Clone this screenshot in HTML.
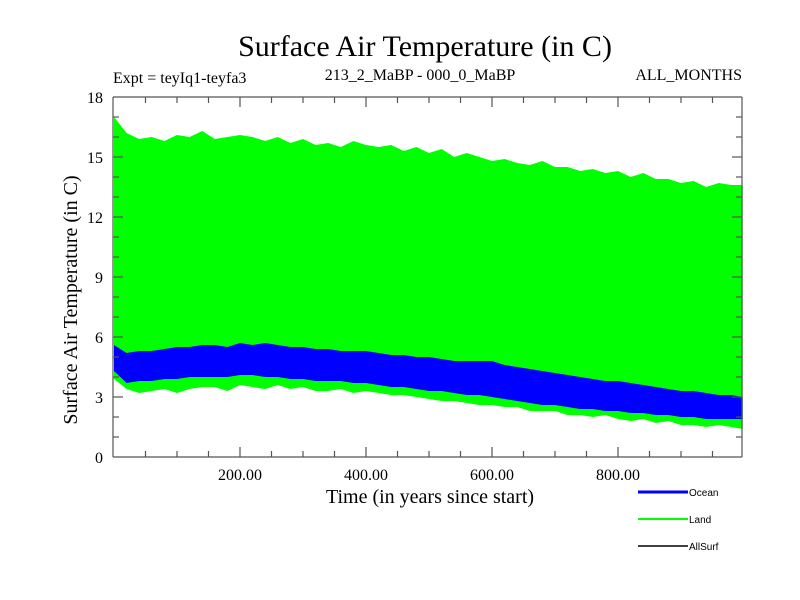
<!DOCTYPE html>
<html><head><meta charset="utf-8"><style>
body{margin:0;background:#fff}
svg{display:block;font-family:"Liberation Serif",serif}
</style></head><body>
<svg id="c" width="800" height="600" viewBox="0 0 800 600">
<text x="425" y="56" font-size="30" text-anchor="middle">Surface Air Temperature (in C)</text>
<text x="113" y="83" font-size="16">Expt = teyIq1-teyfa3</text>
<text x="420" y="80" font-size="16" text-anchor="middle">213_2_MaBP - 000_0_MaBP</text>
<text x="742" y="80" font-size="16" text-anchor="end">ALL_MONTHS</text>
<g id="plot"></g>
<g id="axes"></g>
<text x="430" y="503" font-size="20" text-anchor="middle">Time (in years since start)</text>
<text transform="translate(77,300) rotate(-90)" font-size="20" text-anchor="middle">Surface Air Temperature (in C)</text>
<g font-family="Liberation Sans,sans-serif" font-size="10">
<line x1="638" y1="492" x2="688" y2="492" stroke="#0000ff" stroke-width="3"/>
<text x="689" y="496">Ocean</text>
<line x1="638" y1="519" x2="688" y2="519" stroke="#00ff00" stroke-width="2"/>
<text x="689" y="523">Land</text>
<line x1="638" y1="546" x2="688" y2="546" stroke="#000" stroke-width="1.5"/>
<text x="689" y="550">AllSurf</text>
</g>
</svg>
<script>
const years=[0,20,40,60,80,100,120,140,160,180,200,220,240,260,280,300,320,340,360,380,400,420,440,460,480,500,520,540,560,580,600,620,640,660,680,700,720,740,760,780,800,820,840,860,880,900,920,940,960,980,998];
const landMax=[17,16.2,15.9,16.0,15.8,16.1,16.0,16.3,15.9,16.0,16.1,16.0,15.8,16.0,15.7,15.9,15.6,15.7,15.5,15.8,15.6,15.5,15.6,15.3,15.5,15.2,15.4,15.0,15.2,15.0,14.8,14.9,14.7,14.6,14.8,14.5,14.5,14.3,14.4,14.2,14.3,14.0,14.2,13.9,13.9,13.7,13.8,13.5,13.7,13.6,13.6];
const landMin=[3.9,3.4,3.2,3.3,3.4,3.2,3.4,3.5,3.5,3.3,3.6,3.5,3.4,3.6,3.4,3.5,3.3,3.3,3.4,3.2,3.3,3.2,3.1,3.1,3.0,2.9,2.8,2.8,2.7,2.6,2.6,2.5,2.5,2.3,2.3,2.3,2.1,2.1,2.0,2.1,1.9,1.8,1.9,1.7,1.8,1.6,1.6,1.5,1.6,1.5,1.4];
const oceanMax=[5.6,5.2,5.3,5.3,5.4,5.5,5.5,5.6,5.6,5.5,5.7,5.6,5.7,5.6,5.5,5.5,5.4,5.4,5.3,5.3,5.3,5.2,5.1,5.1,5.0,5.0,4.9,4.8,4.8,4.8,4.8,4.6,4.5,4.4,4.3,4.2,4.1,4.0,3.9,3.8,3.8,3.7,3.6,3.5,3.4,3.3,3.3,3.2,3.1,3.1,3.0];
const oceanMin=[4.3,3.7,3.8,3.8,3.9,3.9,4.0,4.0,4.0,4.0,4.1,4.1,4.0,4.0,3.9,3.9,3.8,3.8,3.8,3.7,3.7,3.6,3.5,3.5,3.4,3.3,3.3,3.2,3.1,3.1,3.0,2.9,2.8,2.7,2.6,2.6,2.5,2.4,2.4,2.3,2.3,2.2,2.2,2.1,2.1,2.0,2.0,1.9,1.9,1.9,1.9];
const xTicks=[200,400,600,800];
const yTicks=[0,3,6,9,12,15,18];
const NS='http://www.w3.org/2000/svg';
const L=113,R=742,T=97,B=457;
const X=v=>114+v*0.63, Y=v=>B-(v/18)*(B-T);
const plot=document.getElementById('plot'),axes=document.getElementById('axes');
function band(hi,lo,color,name){
  let d='M'+years.map((y,i)=>X(y).toFixed(1)+','+Y(hi[i]).toFixed(1)).join('L');
  for(let i=years.length-1;i>=0;i--) d+='L'+X(years[i]).toFixed(1)+','+Y(lo[i]).toFixed(1);
  const p=document.createElementNS(NS,'path');p.setAttribute('d',d+'Z');p.setAttribute('fill',color);
  
  
  plot.appendChild(p);
}
band(landMax,landMin,'#00ff00','land-series');
band(oceanMax,oceanMin,'#0000ff','ocean-series');
function ln(x1,y1,x2,y2,n){const l=document.createElementNS(NS,'line');l.setAttribute('x1',x1);l.setAttribute('y1',y1);l.setAttribute('x2',x2);l.setAttribute('y2',y2);l.setAttribute('stroke','#555');l.setAttribute('stroke-width','1.2');
  
  
  axes.appendChild(l);}
function tx(x,y,s,a,n){const t=document.createElementNS(NS,'text');t.setAttribute('x',x);t.setAttribute('y',y);t.setAttribute('font-size','16');t.setAttribute('text-anchor',a);t.textContent=s;
  
  
  axes.appendChild(t);}
ln(L,T,R,T,'plot-frame-top');ln(L,B,R,B,'plot-frame-bottom');ln(L,T,L,B,'y-axis-line');ln(R,T,R,B,'plot-frame-right');
for(let v=50;v<1000;v+=50){const big=v%200===0,len=big?10:6;ln(X(v),B,X(v),B-len,'x-tick');ln(X(v),T,X(v),T+len,'x-tick-top');}
xTicks.forEach(v=>tx(X(v),480,v.toFixed(2),'middle','x-tick-label'));
for(let v=1;v<18;v++){const big=v%3===0,len=big?10:6;ln(L,Y(v),L+len,Y(v),'y-tick');ln(R,Y(v),R-len,Y(v),'y-tick-right');}
yTicks.forEach(v=>tx(103,Y(v)+6,String(v),'end','y-tick-label'));
</script>
</body></html>
